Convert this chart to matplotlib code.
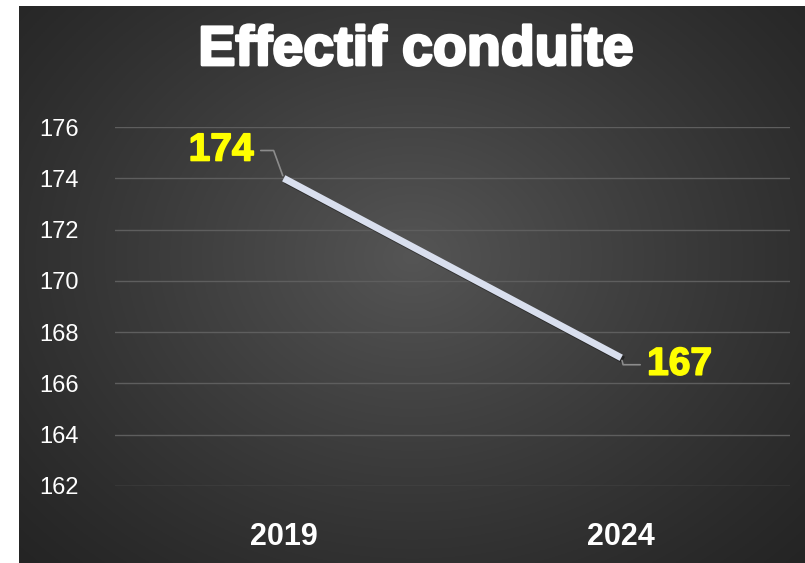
import numpy as np
import matplotlib.pyplot as plt
import matplotlib.patheffects as pe

years = ["2019", "2024"]
effectif = [174, 167]
yticks = [162, 164, 166, 168, 170, 172, 174, 176]

fig = plt.figure(figsize=(8.05, 5.63), dpi=100)
fig.patch.set_facecolor("white")

# dark panel with radial gradient
bg = fig.add_axes([19 / 805, 0, 1 - 19 / 805, 1 - 6 / 563])
yy, xx = np.mgrid[0:1:300j, 0:1:400j]
r = np.sqrt(((xx - 0.5) / 0.75) ** 2 + ((yy - 0.55) / 0.85) ** 2)
shade = np.clip(1 - r, 0, 1) ** 1.2
lo, hi = 0x22 / 255, 0x55 / 255
img = lo + (hi - lo) * shade
bg.imshow(np.dstack([img, img, img]), aspect="auto", extent=[0, 1, 0, 1], origin="lower")
bg.set_axis_off()

ax = fig.add_axes([115 / 805, 1 - 486 / 563, 675 / 805, (486 - 127) / 563])
ax.patch.set_alpha(0)
x = np.arange(len(years))
ax.plot(x, effectif, color="#d9dfee", lw=5, solid_capstyle="butt",
        path_effects=[pe.SimpleLineShadow(offset=(1.5, -1.5), shadow_color="black", alpha=0.4),
                      pe.Normal()])
ax.set_xlim(-0.5, 1.5)
ax.set_ylim(162, 176)
ax.set_yticks(yticks)
ax.set_xticks(x)
ax.set_xticklabels(years)
ax.grid(axis="y", color="#5e5e5e", lw=1)
ax.set_axisbelow(True)
for s in ax.spines.values():
    s.set_visible(False)
ax.tick_params(axis="y", length=0, pad=26, labelsize=17, labelcolor="white")
ax.tick_params(axis="x", length=0, pad=26, labelcolor="white")
for t in ax.get_yticklabels():
    t.set_family(["Liberation Sans", "DejaVu Sans"])
for t in ax.get_xticklabels():
    t.set_family(["Liberation Sans Narrow", "Liberation Sans", "DejaVu Sans"])
    t.set_fontsize(22)
    t.set_fontweight("bold")

thick = [pe.withStroke(linewidth=1.2, foreground="#ffff00")]
offsets = [(-45, 20), (42, -5)]
angles = [110, -75]
for xi, v, off, ang in zip(x, effectif, offsets, angles):
    ax.annotate(str(v), (xi, v), xytext=off, textcoords="offset points",
                ha="center", va="center", color="#ffff00", fontsize=28,
                fontweight="bold", family=["Liberation Sans", "DejaVu Sans"],
                path_effects=thick,
                arrowprops=dict(arrowstyle="-", color="#8c8c8c", lw=1.2,
                                shrinkA=3, shrinkB=2,
                                connectionstyle=f"angle,angleA=0,angleB={ang},rad=0"))

fig.text(0.516, 1 - 65 / 563, "Effectif conduite", ha="center", va="baseline",
         color="white", fontsize=40, fontweight="bold",
         family=["Liberation Sans", "DejaVu Sans"],
         path_effects=[pe.withStroke(linewidth=2, foreground="white")])

fig.savefig("out.png", dpi=100)
